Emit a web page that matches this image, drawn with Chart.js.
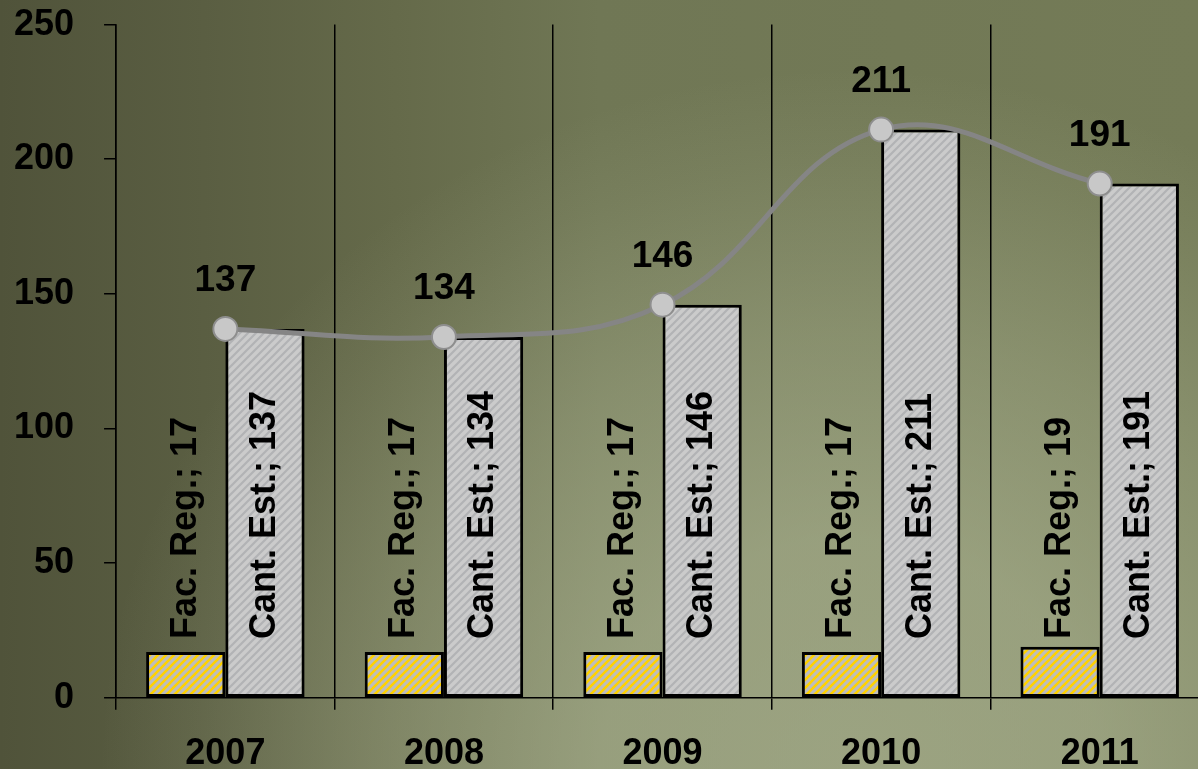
<!DOCTYPE html>
<html>
<head>
<meta charset="utf-8">
<script src="https://cdn.jsdelivr.net/npm/chart.js@4"></script>
<style>
    html, body { margin: 0; padding: 0; overflow: hidden; width: 1198px; height: 769px; }
    #bg {
        position: absolute;
        left: 0;
        top: 0;
        width: 1198px;
        height: 769px;
        background:
            radial-gradient(750px 700px at 850px 769px,
                rgba(190, 198, 165, 0.55) 0%, rgba(190, 198, 165, 0.5) 33%,
                rgba(190, 198, 165, 0.3) 62%, rgba(190, 198, 165, 0.09) 87%,
                rgba(190, 198, 165, 0) 100%),
            linear-gradient(to right, #50533a 0%, #5a5e42 17%, #656a4a 33%, #707755 50%, #747b57 100%);
    }
    #wrap { position: absolute; left: 0; top: -27px; width: 1210px; height: 796px; }
</style>
</head>
<body>
<div id="bg"></div>
<div id="wrap"><canvas id="chart"></canvas></div>
<script>
const years = ["2007", "2008", "2009", "2010", "2011"];
const facReg = [17, 17, 17, 17, 19];
const cantEst = [137, 134, 146, 211, 191];
const seriesNames = ["Fac. Reg.", "Cant. Est."];
const yTicks = [0, 50, 100, 150, 200, 250];

const FONT = '"Liberation Sans", Arial, sans-serif';

// hatch fill like the office "wide upward diagonal" pattern
function makeHatch(bg, stripe, width) {
    const c = document.createElement("canvas");
    c.width = 8;
    c.height = 8;
    const g = c.getContext("2d");
    g.fillStyle = bg;
    g.fillRect(0, 0, 8, 8);
    g.strokeStyle = stripe;
    g.lineWidth = width;
    g.beginPath();
    for (let k = -8; k <= 8; k += 8) {
        g.moveTo(k - 1, 9);
        g.lineTo(k + 9, -1);
    }
    g.stroke();
    return g.createPattern(c, "repeat");
}

const yellowHatch = makeHatch("#bdbdbd", "#ffd200", 2.6);
const greyHatch = makeHatch("#cbcbcb", "#b2b3b5", 2.2);

const labelPlugin = {
    id: "barLabels",
    afterDatasetsDraw(chart) {
        const ctx = chart.ctx;
        ctx.save();
        ctx.fillStyle = "#000";

        // vertical labels sitting near the base of each bar
        ctx.font = "bold 36px " + FONT;
        [facReg, cantEst].forEach((vals, di) => {
            const meta = chart.getDatasetMeta(di);
            meta.data.forEach((bar, i) => {
                ctx.save();
                ctx.translate(bar.x, bar.base - 58);
                ctx.rotate(-Math.PI / 2);
                ctx.textAlign = "left";
                ctx.textBaseline = "middle";
                ctx.fillText(seriesNames[di] + "; " + vals[i], 0, 0);
                ctx.restore();
            });
        });

        // totals above the line points
        ctx.font = "bold 37px " + FONT;
        const lm = chart.getDatasetMeta(2);
        lm.data.forEach((pt, i) => {
            ctx.textAlign = "center";
            ctx.textBaseline = "middle";
            ctx.fillText(String(cantEst[i]), pt.x, pt.y - 48);
        });
        ctx.restore();
    }
};

let ctx = document.getElementById("chart").getContext("2d");
let chart = new Chart(ctx, {
    type: "bar",
    data: {
        labels: years,
        datasets: [
            {
                label: seriesNames[0],
                data: facReg,
                backgroundColor: yellowHatch,
                borderColor: "#000",
                borderWidth: 3,
                borderSkipped: false,
                barPercentage: 1,
                categoryPercentage: 0.725,
                order: 1
            },
            {
                label: seriesNames[1],
                data: cantEst,
                backgroundColor: greyHatch,
                borderColor: "#000",
                borderWidth: 3,
                borderSkipped: false,
                barPercentage: 1,
                categoryPercentage: 0.725,
                order: 1
            },
            {
                type: "line",
                label: "Total",
                data: cantEst,
                borderColor: "#858585",
                borderWidth: 5,
                tension: 0.4,
                fill: false,
                pointRadius: 12,
                pointBackgroundColor: "#c8c8c8",
                pointBorderColor: "#8e8e8e",
                pointBorderWidth: 2,
                order: 0
            }
        ]
    },
    options: {
        responsive: true,
        maintainAspectRatio: false,
        animation: false,
        layout: {
            autoPadding: false,
            padding: { left: -16, top: -8, right: 1, bottom: -30 }
        },
        plugins: {
            legend: { display: false },
            tooltip: { enabled: false }
        },
        scales: {
            x: {
                offset: true,
                grid: {
                    offset: true,
                    color: "#000",
                    lineWidth: 1.5,
                    tickLength: 12,
                    drawOnChartArea: true
                },
                border: { color: "#000", width: 1.5 },
                ticks: {
                    color: "#000",
                    padding: 23,
                    font: { family: FONT, size: 36, weight: "bold" }
                }
            },
            y: {
                min: 0,
                max: 250,
                afterBuildTicks: axis => {
                    axis.ticks = yTicks.map(v => ({ value: v }));
                },
                grid: {
                    color: "#000",
                    lineWidth: 1.5,
                    tickLength: 12,
                    drawOnChartArea: false
                },
                border: { color: "#000", width: 1.5 },
                ticks: {
                    color: "#000",
                    padding: 30,
                    font: { family: FONT, size: 36, weight: "bold" }
                }
            }
        }
    },
    plugins: [labelPlugin]
});
</script>
</body>
</html>
